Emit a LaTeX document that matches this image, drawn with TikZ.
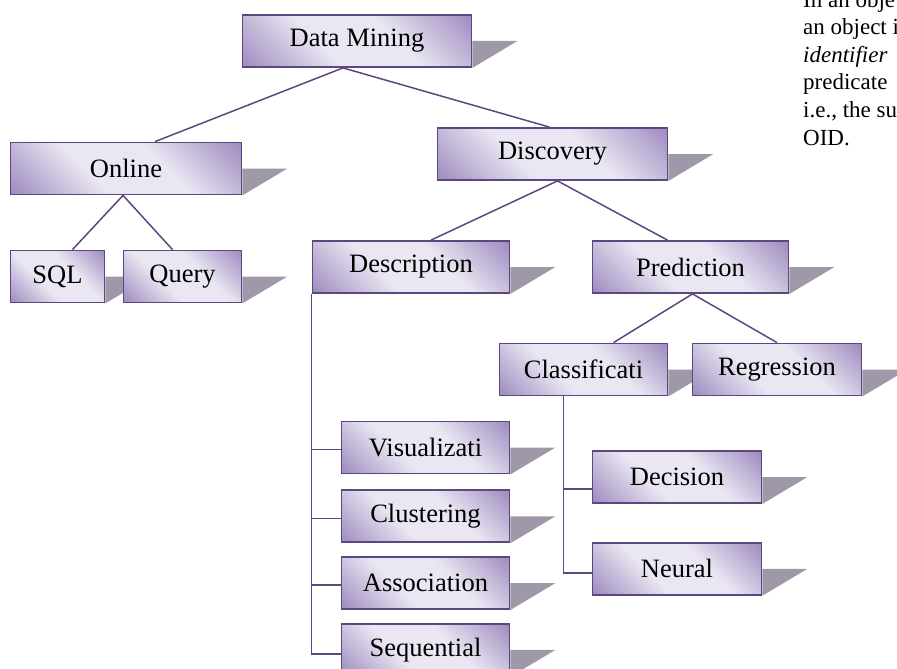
\documentclass[tikz,border=0pt]{standalone}
\usepackage{fontspec}
\setmainfont{Liberation Serif}
\usetikzlibrary{positioning, calc}
\definecolor{boxdark}{RGB}{156,136,190}
\definecolor{boxlight}{RGB}{234,231,242}
\definecolor{boxline}{RGB}{92,72,128}
\definecolor{shadowgray}{RGB}{158,152,168}
\pgfdeclareverticalshading{boxshade}{100bp}{color(0bp)=(boxdark); color(14bp)=(boxdark);
  color(40bp)=(boxlight); color(60bp)=(boxlight); color(86bp)=(boxdark); color(100bp)=(boxdark)}
\pgfdeclarelayer{background}
\pgfsetlayers{background,main}

\begin{document}
\begin{tikzpicture}[
  x=1pt, y=-1pt,
  box/.style={draw=boxline, line width=1.8pt, shading=boxshade, shading angle=-45,
              minimum height=52pt, inner sep=0pt, font=\fontsize{26.5}{30}\selectfont},
  link/.style={draw=boxline, line width=1.5pt},
  shadowtri/.style={fill=shadowgray},
  note/.style={anchor=north west, align=left, inner sep=0pt,
               font=\fontsize{23}{27.6}\selectfont}
]
  \useasboundingbox (0,0) rectangle (897,669);
  \clip (0,0) rectangle (897,669);

  \node[box, minimum width=229pt] (dm) at (357,41) {Data Mining};
  \node[box, minimum width=231pt] (online) at (126,168.5) {Online};
  \node[box, minimum width=94pt] (sql) at (57.5,276.5) {SQL};
  \node[box, minimum width=118pt] (query) at (182.5,276.5) {Query};
  \node[box, minimum width=230pt] (disc) at (552.5,154) {Discovery};
  \node[box, minimum width=197pt] (desc) at (411,267) {Description};
  \node[box, minimum width=196pt] (pred) at (690.5,267) {Prediction};
  \node[box, minimum width=168pt] (class) at (583.5,369.5) {Classificati};
  \node[box, minimum width=169pt] (regr) at (777,369.5) {Regression};
  \node[box, minimum width=168pt] (visu) at (425.5,447.5) {Visualizati};
  \node[box, minimum width=168pt, below=15pt of visu] (clus) {Clustering};
  \node[box, minimum width=168pt, below=13pt of clus] (assoc) {Association};
  \node[box, minimum width=168pt, below=13pt of assoc] (seq) {Sequential};
  \node[box, minimum width=169pt] (dec) at (677,477) {Decision};
  \node[box, minimum width=169pt, below=38pt of dec] (neural) {Neural};

  \draw[link] ([xshift=-14pt]dm.south) -- ([xshift=29pt]online.north);
  \draw[link] ([xshift=-14pt]dm.south) -- ([xshift=-3pt]disc.north);
  \draw[link] ([xshift=-3pt]online.south) -- ([xshift=15pt]sql.north);
  \draw[link] ([xshift=-3pt]online.south) -- ([xshift=-10pt]query.north);
  \draw[link] ([xshift=5pt]disc.south) -- ([xshift=20pt]desc.north);
  \draw[link] ([xshift=5pt]disc.south) -- ([xshift=-23pt]pred.north);
  \draw[link] ([xshift=2pt]pred.south) -- ([xshift=30pt]class.north);
  \draw[link] ([xshift=2pt]pred.south) -- (regr.north);

  \draw[link] (desc.south west) |- ([yshift=-4pt]seq.west);
  \foreach \n in {visu,clus,assoc}
    \draw[link] ([yshift=-2pt]desc.south west |- \n.west) -- ([yshift=-2pt]\n.west);
  \coordinate (cfork) at ([xshift=-20pt]class.south);
  \draw[link] (cfork) |- ([yshift=-4pt]neural.west);
  \draw[link] ([yshift=-12pt]cfork |- dec.west) -- ([yshift=-12pt]dec.west);

  \node[note] (oid) at (803,-9) {In an obje\\an object i\\\textit{identifier}\\predicate\\i.e., the su\\OID.};

  \begin{pgfonlayer}{background}
    \foreach \n in {dm,online,sql,query,disc,desc,pred,class,regr,visu,clus,assoc,seq,dec,neural}
      \fill[shadowtri] (\n.east) -- ++(45,0) -- (\n.south east) -- cycle;
  \end{pgfonlayer}
\end{tikzpicture}
\end{document}
